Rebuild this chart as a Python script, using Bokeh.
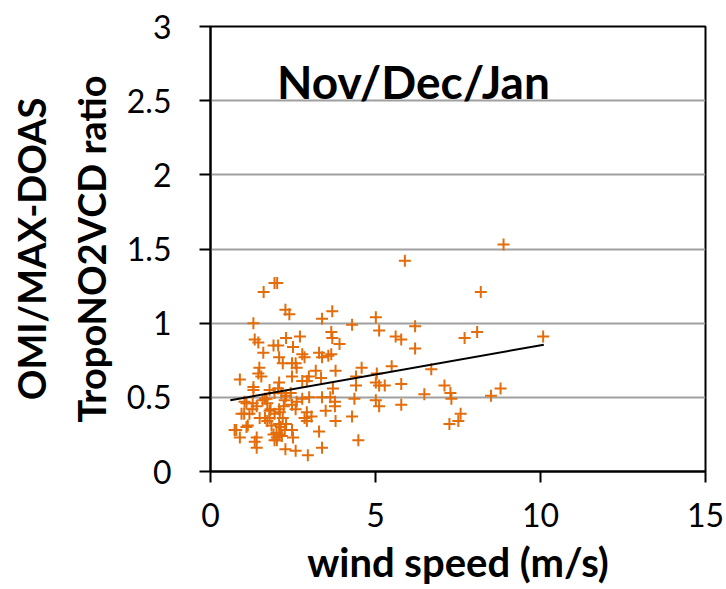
from bokeh.plotting import figure
from bokeh.models import Label, FixedTicker, Range1d
from bokeh.embed import file_html
from bokeh.resources import INLINE

# wind speed (m/s)
wind_speed = [
    8.88, 5.89, 8.19, 1.94, 2.02, 1.61, 2.27, 2.39, 1.30, 3.69, 3.38, 5.01, 4.29, 5.11,
    5.61, 5.78, 6.20, 6.20, 7.70, 8.08, 10.08, 1.34, 1.45, 1.60, 1.91, 2.05, 2.29, 2.71,
    2.50, 2.08, 2.19, 2.47, 2.58, 2.78, 2.85, 2.61, 3.29, 3.38, 3.66, 3.66, 3.69, 3.91,
    3.57, 3.79, 3.19, 4.58, 5.49, 6.69, 5.04, 0.89, 1.48, 1.45, 1.54, 1.30, 1.30, 2.08,
    2.05, 2.47, 2.78, 2.92, 2.98, 3.35, 3.71, 4.41, 4.41, 5.01, 5.11, 5.28, 5.78, 7.09,
    7.27, 6.48, 8.50, 8.79, 7.30, 4.36, 5.01, 5.11, 5.78, 7.24, 7.51, 7.58, 4.29, 4.48,
    3.77, 3.77, 3.79, 3.49, 3.29, 3.38, 2.95, 2.58, 2.27, 2.50, 2.01, 2.08, 1.91, 2.01,
    1.40, 1.40, 0.78, 0.89, 1.13, 1.02, 1.27, 1.40, 1.09, 1.72, 1.65, 1.82, 1.65, 1.72,
    1.94, 2.08, 2.22, 2.29, 2.43, 2.47, 2.61, 2.58, 2.29, 2.47, 2.85, 2.92, 3.06, 2.92,
    2.08, 2.13, 2.99, 3.38, 1.79, 1.94, 2.15, 2.78, 3.63,
    1.03, 1.28, 1.58, 1.70, 1.79, 2.10, 2.25, 0.94, 1.18, 1.49, 1.79, 2.19, 0.73, 1.09,
    1.85, 2.00, 2.16, 2.25, 1.34, 1.94,
]
# OMI / MAX-DOAS tropospheric NO2 VCD ratio
vcd_ratio = [
    1.53, 1.42, 1.21, 1.27, 1.27, 1.21, 1.09, 1.06, 1.00, 1.08, 1.03, 1.04, 0.99, 0.95,
    0.91, 0.89, 0.98, 0.83, 0.90, 0.94, 0.91, 0.89, 0.87, 0.80, 0.85, 0.85, 0.90, 0.91,
    0.84, 0.77, 0.73, 0.73, 0.73, 0.79, 0.77, 0.70, 0.80, 0.77, 0.79, 0.94, 0.90, 0.86,
    0.78, 0.68, 0.68, 0.70, 0.71, 0.69, 0.66, 0.62, 0.70, 0.66, 0.64, 0.57, 0.55, 0.60,
    0.56, 0.64, 0.61, 0.61, 0.64, 0.63, 0.56, 0.64, 0.58, 0.60, 0.58, 0.58, 0.59, 0.58,
    0.53, 0.52, 0.51, 0.56, 0.49, 0.49, 0.48, 0.44, 0.45, 0.32, 0.34, 0.39, 0.37, 0.21,
    0.47, 0.44, 0.34, 0.41, 0.27, 0.16, 0.11, 0.14, 0.15, 0.23, 0.23, 0.25, 0.25, 0.21,
    0.16, 0.23, 0.28, 0.23, 0.31, 0.39, 0.42, 0.44, 0.46, 0.46, 0.49, 0.42, 0.36, 0.34,
    0.39, 0.42, 0.44, 0.51, 0.53, 0.45, 0.47, 0.42, 0.32, 0.28, 0.36, 0.40, 0.37, 0.34,
    0.32, 0.30, 0.50, 0.50, 0.55, 0.53, 0.53, 0.49, 0.50,
    0.47, 0.46, 0.48, 0.49, 0.41, 0.40, 0.48, 0.39, 0.39, 0.36, 0.36, 0.36, 0.28, 0.30,
    0.31, 0.26, 0.24, 0.28, 0.20, 0.21,
]
# linear trend line (end points)
trend_x = [0.6, 10.1]
trend_y = [0.48, 0.855]

x_ticks = [0, 5, 10, 15]
y_ticks = [0, 0.5, 1, 1.5, 2, 2.5, 3]
title_text = "Nov/Dec/Jan"

FONT = "Lato"

p = figure(width=726, height=589, output_backend="svg", toolbar_location=None,
           x_range=Range1d(0, 15), y_range=Range1d(0, 3),
           min_border_left=210, min_border_right=21, min_border_top=26,
           min_border_bottom=118)

p.cross(wind_speed, vcd_ratio, size=12, line_width=2, color="#E46C0A")
p.line(trend_x, trend_y, line_color="black", line_width=2)

p.outline_line_color = "black"
p.outline_line_width = 2

p.xgrid.grid_line_color = None
p.ygrid.grid_line_color = "#a0a0a0"
p.ygrid.grid_line_width = 2

p.xaxis.ticker = FixedTicker(ticks=x_ticks)
p.yaxis.ticker = FixedTicker(ticks=y_ticks)
for ax in (p.xaxis, p.yaxis):
    ax.axis_line_color = "black"
    ax.axis_line_width = 2
    ax.major_tick_line_color = "black"
    ax.major_tick_line_width = 2
    ax.major_tick_in = 0
    ax.major_tick_out = 11
    ax.minor_tick_line_color = None
    ax.major_label_text_font = FONT
    ax.major_label_text_font_size = "32px"
    ax.major_label_text_color = "black"
    ax.axis_label_text_font = FONT
    ax.axis_label_text_font_style = "bold"
    ax.axis_label_text_font_size = "38px"
    ax.axis_label_text_color = "black"

p.xaxis.major_label_standoff = 20
p.yaxis.major_label_standoff = 28
p.xaxis.axis_label = "wind speed (m/s)"
p.xaxis.axis_label_text_font_size = "40px"
p.xaxis.axis_label_standoff = 8
p.yaxis.axis_label = "OMI/MAX-DOAS\nTropoNO2VCD ratio"
p.yaxis.axis_label_standoff = 10
p.yaxis.axis_label_text_line_height = 1.3

p.add_layout(Label(x=6.15, y=2.63, text=title_text, text_align="center",
                   text_baseline="middle", text_font=FONT, text_font_style="bold",
                   text_font_size="46px", text_color="black"))

open("out.html", "w").write(file_html(p, INLINE))
